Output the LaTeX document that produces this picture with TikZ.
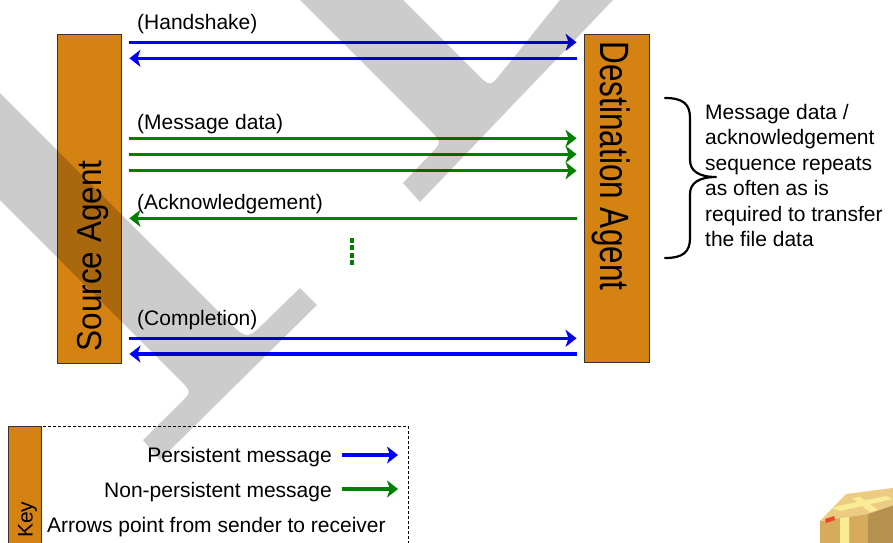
\documentclass[tikz,border=0pt]{standalone}
\usepackage{fontspec}
\setmainfont{Liberation Sans}
\usetikzlibrary{arrows.meta}
\definecolor{arancio}{RGB}{212,130,18}
\definecolor{verde}{RGB}{0,128,0}
\definecolor{blu}{RGB}{0,0,255}
\definecolor{cartone}{RGB}{214,172,92}
\definecolor{cartchiaro}{RGB}{236,204,130}
\definecolor{nastro}{RGB}{250,236,150}
\begin{document}
\begin{tikzpicture}[x=1pt, y=-1pt,
	agente/.style={draw=black!80, fill=arancio, line width=0.9pt, inner sep=0pt},
	punta/.style={-{Stealth[length=11pt,width=17pt,inset=3pt]}},
	pers/.style={punta, line width=3.3pt, blu},
	nonpers/.style={punta, line width=3.3pt, verde},
	etich/.style={font=\fontsize{21}{25.4}\selectfont, inner sep=0pt},
	grande/.style={font=\fontsize{31.5}{36}\selectfont, inner sep=0pt},
	chiave/.style={draw=black, line width=0.8pt, dash pattern=on 3pt off 2pt},
	graffa/.style={line width=2.2pt, line cap=round, line join=round, black},
	filigrana/.style={fill=black, fill opacity=0.2},
	]
	\useasboundingbox (0,0) rectangle (893,542);
	
	%% messaggi tra i due agenti
	\newcommand{\avanti}[2]{\draw[#1](sE |- 0,#2)--(dW |- 0,#2);}
	\newcommand{\indietro}[2]{\draw[#1](dW |- 0,#2)--(sE |- 0,#2);}
	
	%% =========================================================
	%% agenti
	%% =========================================================
	\node[agente, minimum width=64.5pt, minimum height=329pt] (src) at (89.25,198.5) {};
	\node[agente, minimum width=65pt, minimum height=328pt] (dst) at (616.5,198) {};
	\node[grande, rotate=90, anchor=base west] (srcl) at (101.7,351.5)
	{\scalebox{1}[1.1]{Source Agent}};
	\node[grande, rotate=-90, anchor=base west] (dstl) at (600,41.5)
	{\scalebox{1}[1.3]{Destination Agent}};
	\coordinate (sE) at ([xshift=7.5pt]src.east);
	\coordinate (dW) at ([xshift=-7pt]dst.west);
	
	%% handshake
	\node[etich, anchor=base west] (hs) at (137,29.5) {(Handshake)};
	\avanti{pers}{42.3}
	\indietro{pers}{58.3}
	
	%% dati e conferma
	\node[etich, anchor=base west] (md) at (137,129.5) {(Message data)};
	\foreach \yy in {138.3,154.3,170.7} {\avanti{nonpers}{\yy}}
	\node[etich, anchor=base west] (ack) at (137,209.5) {(Acknowledgement)};
	\indietro{nonpers}{218.3}
	\draw[verde, line width=3.5pt, dash pattern=on 5pt off 2.3pt](352,238)--(352,265);
	
	%% completamento
	\node[etich, anchor=base west] (cp) at (137,325) {(Completion)};
	\avanti{pers}{338.3}
	\indietro{pers}{354}
	
	%% graffa e nota a destra
	\draw[graffa](665,98) .. controls (683,98) and (690,104) .. (690,118)
	--(690,160) .. controls (690,171) and (699,177) .. (716,177)
	.. controls (699,177) and (690,183) .. (690,194)
	--(690,238) .. controls (690,252) and (683,258) .. (665,258);
	\node[etich, align=left, anchor=north west] (nota) at (705,104)
	{Message data /\\acknowledgement\\sequence repeats\\as often as is\\required to transfer\\the file data};
	
	%% =========================================================
	%% legenda
	%% =========================================================
	\draw[chiave](8,426) rectangle (408,560);
	\node[agente, minimum width=33pt, minimum height=134pt, anchor=north west] (barra) at (8,426) {};
	\node[etich, rotate=90, anchor=base west] (kl) at (32.5,538) {Key};
	\node[etich, anchor=base east] (lp) at (332,462.5) {Persistent message};
	\node[etich, anchor=base east] (ln) at (332,497.5) {Non-persistent message};
	\node[etich, anchor=base west] (la) at (47,532.5) {Arrows point from sender to receiver};
	\coordinate (lpA) at (342,455); \coordinate (lpB) at (398,455);
	\coordinate (lnA) at (342,489); \coordinate (lnB) at (398,489);
	\draw[pers](lpA)--(lpB);
	\draw[nonpers](lnA)--(lnB);
	
	%% scatola in basso a destra
	\fill[cartchiaro](820,521)--(846,494)--(900,487)--(900,503)--(868,514)--cycle;
	\fill[cartone](820,521)--(868,514)--(868,550)--(820,550)--cycle;
	\fill[cartone!85!black](868,514)--(900,503)--(900,550)--(868,550)--cycle;
	\fill[nastro](832,508)--(838,506)--(886,496)--(892,499)--(884,501)--(840,511)--cycle;
	\fill[nastro](852,498)--(860,497)--(878,510)--(870,512)--cycle;
	\fill[nastro](840,518)--(849,517)--(849,550)--(840,550)--cycle;
	\fill[red!60!cartone](825,519)--(834,516)--(835,520)--(826,523)--cycle;
	
	%% =========================================================
	%% filigrana grigia
	%% =========================================================
	\fill[filigrana](300,0)--(403,0)--(474,71) .. controls (490,87) .. (500,74.5)
	--(560,0)--(613,0)--(420,202)--(403,183)--(432,152.5)
	.. controls (442,142) .. (425,125)--cycle;
	\fill[filigrana](0,93)--(227,320) .. controls (247,340) .. (267,320)
	--(300,288)--(317,305)--(160,460)--(143,440)--(181,402.5)
	.. controls (191.7,391.7) .. (178,378)--(0,200)--cycle;
\end{tikzpicture}
\end{document}
